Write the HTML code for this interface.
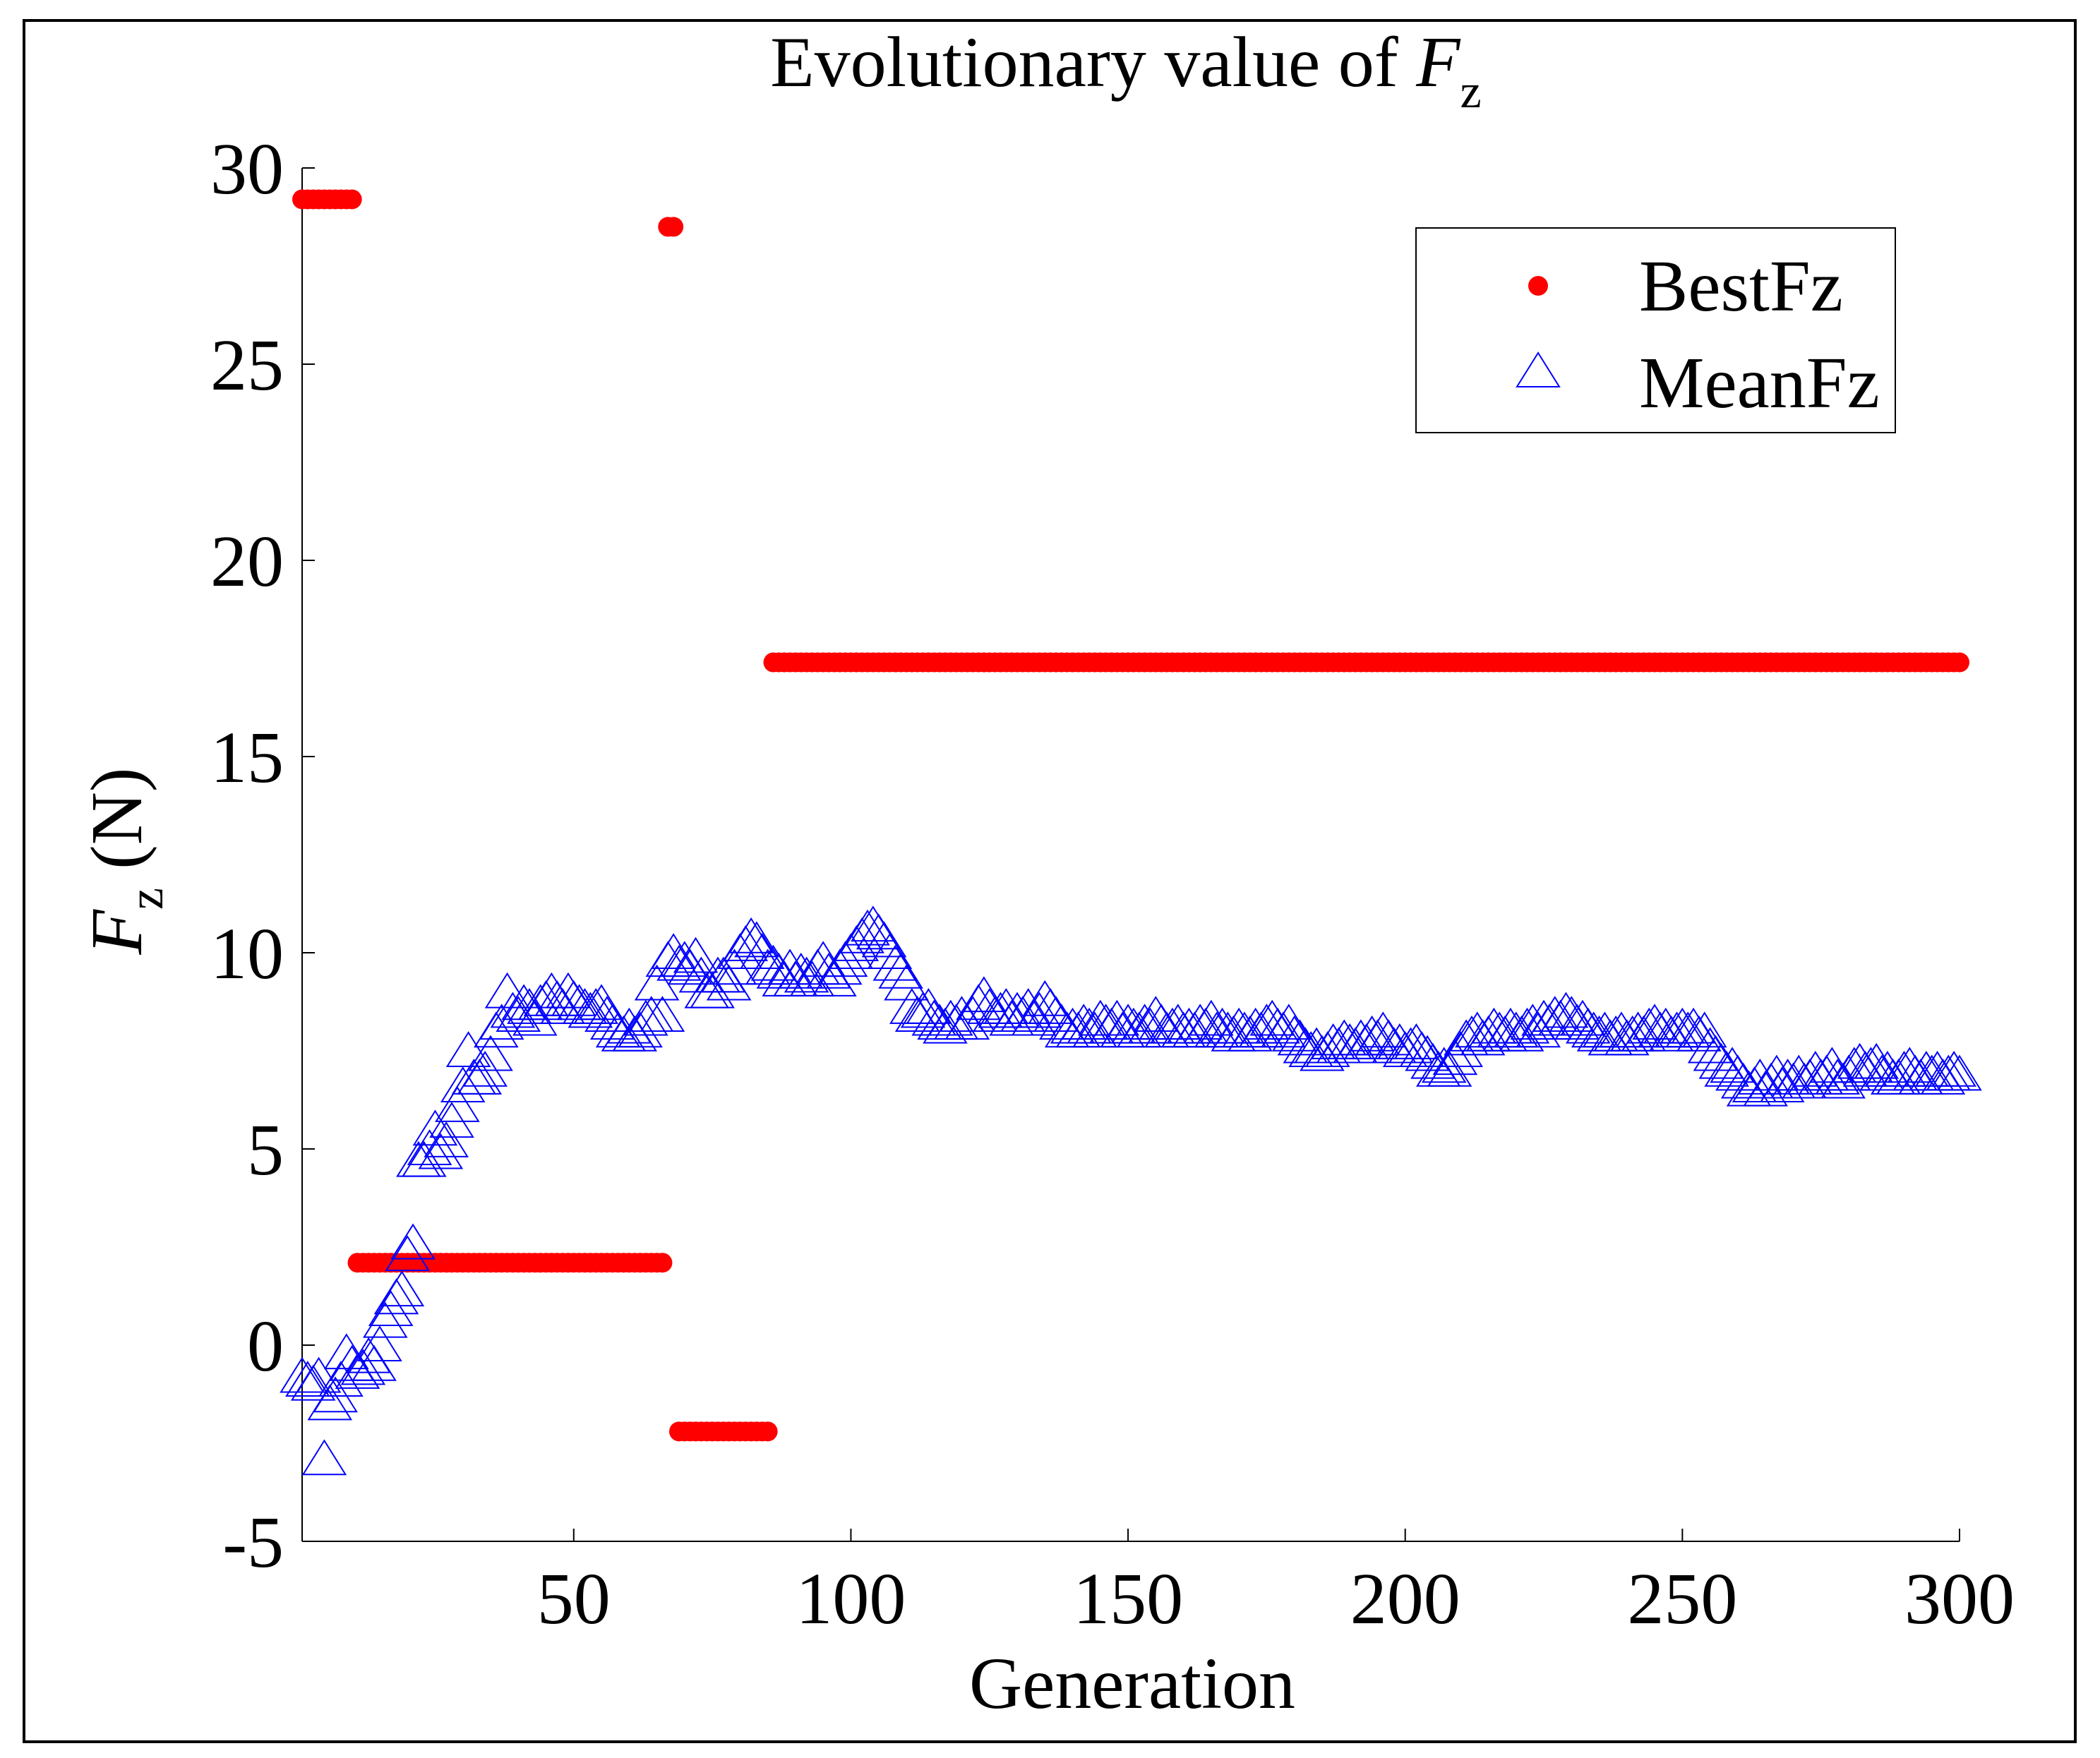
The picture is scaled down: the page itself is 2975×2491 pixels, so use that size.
<!DOCTYPE html>
<html><head><meta charset="utf-8"><style>
html,body{margin:0;padding:0;background:#fff}
svg{display:block}
text{font-family:"Liberation Serif",serif;fill:#000}
</style></head><body>
<svg id="chart" width="2975" height="2491" viewBox="0 0 2975 2491" xmlns="http://www.w3.org/2000/svg">
<rect x="34" y="29" width="2906" height="2439" fill="#fff" stroke="#000" stroke-width="4"/>
<text x="1595" y="122" font-size="102" text-anchor="middle">Evolutionary value of <tspan font-style="italic">F</tspan><tspan font-size="68" dy="30">z</tspan></text>
<g id="axes"></g>
<g id="best"></g>
<g id="mean"></g>
<text x="1604" y="2420" font-size="104" text-anchor="middle">Generation</text>
<text transform="translate(200,1220) rotate(-90)" font-size="104" text-anchor="middle"><tspan font-style="italic">F</tspan><tspan font-size="70" dy="30">z</tspan><tspan dy="-30"> (N)</tspan></text>
<g>
<rect x="2006" y="323" width="679" height="290" fill="#fff" stroke="#000" stroke-width="2"/>
<circle cx="2179" cy="405" r="14" fill="#ff0000"/>
<text x="2322" y="440" font-size="104">BestFz</text>
<polygon points="2149,548 2209,548 2179,500" fill="none" stroke="#0000ff" stroke-width="2"/>
<text x="2322" y="577" font-size="104">MeanFz</text>
</g>
</svg>
<script>
const xTicks = [50, 100, 150, 200, 250, 300];
const yTicks = [-5, 0, 5, 10, 15, 20, 25, 30];
const bestSegStart = [1, 11, 67, 69, 86];
const bestSegEnd = [10, 66, 68, 85, 300];
const bestSegValue = [29.2, 2.1, 28.5, -2.2, 17.4];
const meanFz = [
-0.8,-0.9,-1.0,-0.8,-2.9,-1.5,-1.3,-0.9,-0.2,-0.5,
-0.7,-0.6,-0.3,-0.5,0.0,0.6,0.9,1.2,1.4,2.3,
2.6,4.7,4.7,5.0,5.5,4.9,5.2,5.7,6.1,6.6,
7.5,6.8,6.8,7.0,7.4,8.0,8.2,9.0,8.5,8.4,
8.7,8.6,8.3,8.7,8.8,9.0,8.8,8.6,9.0,8.8,
8.7,8.6,8.5,8.6,8.7,8.4,8.2,8.0,7.9,8.1,
7.9,8.0,8.3,8.4,9.2,8.4,9.8,10.0,9.7,9.8,
9.6,9.9,9.4,9.0,9.0,9.4,9.4,9.2,9.6,10.0,
10.2,10.4,10.3,10.0,9.6,9.7,9.5,9.3,9.6,9.3,
9.5,9.4,9.3,9.6,9.8,9.5,9.3,9.6,9.8,10.0,
10.2,10.4,10.6,10.7,10.5,10.3,10.0,9.7,9.5,9.2,
8.6,8.4,8.5,8.6,8.3,8.2,8.1,8.3,8.2,8.4,
8.2,8.4,8.7,8.9,8.6,8.4,8.5,8.6,8.3,8.5,
8.4,8.6,8.3,8.5,8.8,8.6,8.4,8.2,8.0,8.1,
8.0,8.2,8.1,8.0,8.3,8.2,8.1,8.3,8.0,8.2,
8.1,8.0,8.2,8.1,8.4,8.2,8.0,8.1,8.2,8.0,
8.1,8.0,8.2,8.1,8.3,8.0,8.1,8.0,7.9,8.1,
8.0,7.9,8.1,8.0,8.2,8.3,8.1,8.0,8.2,7.9,
7.8,7.6,7.5,7.6,7.4,7.5,7.7,7.6,7.8,7.7,
7.6,7.8,7.7,7.9,7.8,8.0,7.8,7.6,7.7,7.5,
7.6,7.7,7.5,7.4,7.2,7.0,7.1,7.0,7.3,7.5,
7.8,7.9,8.0,7.8,7.9,8.1,8.0,7.9,8.1,8.0,
7.9,8.1,8.2,8.0,8.3,8.2,8.4,8.3,8.5,8.4,
8.2,8.3,8.1,8.0,7.9,8.0,7.8,7.9,8.0,7.8,
7.9,8.0,7.9,8.1,8.2,8.0,8.1,7.9,8.0,8.1,
8.0,8.1,7.9,8.0,7.6,7.4,7.2,7.0,7.1,6.9,
6.7,6.5,6.6,6.8,6.5,6.7,6.9,6.6,6.8,6.7,
6.9,6.7,6.8,7.0,6.8,6.9,7.1,6.8,6.7,6.9,
7.1,7.2,7.0,7.1,7.2,6.9,7.0,6.8,6.8,7.0,
7.1,6.9,6.8,7.0,6.9,7.0,6.8,6.9,7.0,6.9
];
const NS = 'http://www.w3.org/2000/svg';
const X0 = 428, X1 = 2776, Y0 = 238, Y1 = 2184;
const xMin = 1, xMax = 300, yMin = -5, yMax = 30;
function xs(g){ return X0 + (g - xMin) * (X1 - X0) / (xMax - xMin); }
function ys(v){ return Y1 - (v - yMin) * (Y1 - Y0) / (yMax - yMin); }
function mk(tag, attrs, parent){ const e = document.createElementNS(NS, tag); for (const k in attrs) e.setAttribute(k, attrs[k]); parent.appendChild(e); return e; }
const axes = document.getElementById('axes');
let l = mk('line', {x1:X0, y1:Y0, x2:X0, y2:Y1, stroke:'#000', 'stroke-width':2}, axes);


l = mk('line', {x1:X0, y1:Y1, x2:X1, y2:Y1, stroke:'#000', 'stroke-width':2}, axes);


yTicks.forEach(v => {
  const y = ys(v);
  const t = mk('line', {x1:X0, y1:y, x2:X0 + 18, y2:y, stroke:'#000', 'stroke-width':2}, axes);
  
  
  const tx = mk('text', {x:402, y:y + 36, 'font-size':104, 'text-anchor':'end'}, axes);
  tx.textContent = v;
  
  
});
xTicks.forEach(g => {
  const x = xs(g);
  const t = mk('line', {x1:x, y1:Y1, x2:x, y2:Y1 - 18, stroke:'#000', 'stroke-width':2}, axes);
  
  
  const tx = mk('text', {x:x, y:2300, 'font-size':104, 'text-anchor':'middle'}, axes);
  tx.textContent = g;
  
  
});
const best = document.getElementById('best');
bestSegStart.forEach((s, i) => {
  for (let g = s; g <= bestSegEnd[i]; g++) {
    const c = mk('circle', {cx:xs(g), cy:ys(bestSegValue[i]), r:14, fill:'#ff0000'}, best);
    
    
  }
});
const mean = document.getElementById('mean');
meanFz.forEach((v, i) => {
  const x = xs(i + 1), y = ys(v);
  const p = mk('polygon', {points:(x-30)+','+(y+22)+' '+(x+30)+','+(y+22)+' '+x+','+(y-26), fill:'none', stroke:'#0000ff', 'stroke-width':2}, mean);
  
  
});
</script>
</body></html>
